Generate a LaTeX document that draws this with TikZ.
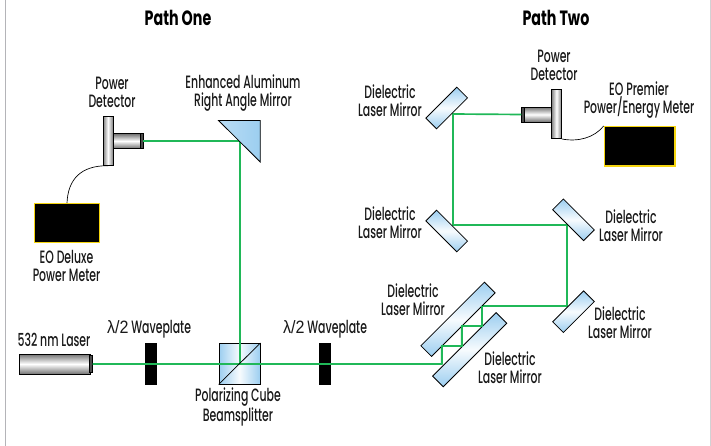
\documentclass[tikz,border=0pt]{standalone}
\usepackage{fontspec}
\setmainfont[FakeStretch=0.61]{Poppins Medium}
\newfontfamily\ttlfont[FakeStretch=0.69]{Poppins Bold}
\newfontfamily\gk[FakeStretch=0.9]{Liberation Sans}
\definecolor{beam}{HTML}{20B858}
\definecolor{glass}{HTML}{9CCEF0}
\definecolor{frame}{HTML}{B4B4B8}
\definecolor{brass}{HTML}{F5D50F}
\tikzset{
  x=0.75pt,y=-0.75pt,
  lbl/.style={align=center,inner sep=0pt,font=\fontsize{13.4}{13.5}\selectfont,text=black!90},
  ttl/.style={inner sep=0pt,font=\fontsize{15.5}{16}\ttlfont},
  ray/.style={draw=beam,line width=1.25pt,line join=miter},
  mirror/.style={draw=black,line width=0.6pt,rectangle,inner sep=0pt,minimum height=11.3pt,
     top color=glass,bottom color=glass,middle color=white!92!glass},
  waveplate/.style={draw=none,fill=black,rectangle,inner sep=0pt,minimum width=9pt,minimum height=31.5pt},
  meter/.style={draw=brass,line width=1.1pt,fill=black,rectangle,inner sep=0pt},
  metal/.style={draw=black,line width=0.5pt,rectangle,inner sep=0pt,top color=black!55,bottom color=black!55,middle color=white},
  metalv/.style={draw=black,line width=0.5pt,rectangle,inner sep=0pt,left color=black!50,right color=black!50,middle color=white},
  endcap/.style={draw=black,line width=0.4pt,fill=black!70,rectangle,inner sep=0pt},
  wire/.style={draw=black,line width=0.5pt}
}
\begin{document}
\begin{tikzpicture}
\useasboundingbox (0,0) rectangle (711,446);
\fill[white] (0,0) rectangle (711,446);
\draw[frame,line width=1.1pt] (5.5,0) -- (5.5,446);
\draw[frame!60,line width=0.8pt] (710.6,0) -- (710.6,446);

% turning points of the beams
\coordinate (bs) at (239.8,364);
\coordinate (pa) at (239.8,141);
\coordinate (a1) at (441.7,364);
\coordinate (a2) at (441.7,346);
\coordinate (a3) at (461.7,346);
\coordinate (a4) at (461.7,326);
\coordinate (a5) at (482,326);
\coordinate (a6) at (482,306);
\coordinate (a7) at (567,306);
\coordinate (a8) at (567,225);
\coordinate (a9) at (453,225);
\coordinate (a10) at (453,114);

% laser, plates
\node[metal,minimum width=53pt,minimum height=15pt] (laser) at (54.5,364) {};
\node[endcap,minimum width=2pt,minimum height=12.5pt] (lasercap) at (91,364) {};
\node[waveplate] (wp1) at (151,364) {};
\node[waveplate] (wp2) at (325,364) {};
\node[draw=black,line width=0.6pt,rectangle,inner sep=0pt,minimum width=30.75pt,minimum height=30.5pt,left color=glass,right color=glass,middle color=white!92!glass] (cube) at (239.5,363.7) {};

% detectors, meters
\node[metal,minimum width=20pt,minimum height=11pt] (body1) at (126.5,141) {};
\node[metalv,minimum width=7.5pt,minimum height=37pt] (plate1) at (108,140.7) {};
\node[endcap,minimum width=2pt,minimum height=11pt] (cap1) at (141.5,141) {};
\node[meter,minimum width=48.4pt,minimum height=28.9pt] (meter1) at (67,223) {};
\node[metal,minimum width=20pt,minimum height=11pt] (body2) at (537.7,114.5) {};
\node[metalv,minimum width=7.5pt,minimum height=37pt] (plate2) at (556.5,114) {};
\node[endcap,minimum width=2pt,minimum height=11pt] (cap2) at (523,114.5) {};
\node[meter,minimum width=52.9pt,minimum height=29.4pt] (meter2) at (639.7,146.3) {};

% beams
\draw[ray] (lasercap.east) -- (a1) -- (a2) -- (a3) -- (a4) -- (a5) -- (a6) -- (a7) -- (a8) -- (a9) -- (a10) -- (cap2.west);
\draw[ray] (bs) -- (pa) -- (cap1.east);
\draw[draw=black,line width=0.55pt] (cube.south west) -- (cube.north east);

% wires
\draw[wire] (meter1.north) .. controls (68,180) and (80,165.5) .. (plate1.south);
\draw[wire] (plate2.south east) .. controls (578,142) and (594,138) .. (meter2.north west);

% right-angle mirror
\shade[left color=glass!70,middle color=white,right color=glass,draw=black,line width=0.6pt,shading angle=90] (218.5,120.5) -- (260.3,120.5) -- (260.3,162) -- cycle;

% dielectric mirrors
\node[mirror,minimum width=32.8pt,rotate=45] (m1) at (446.7,108) {};
\node[mirror,minimum width=32.8pt,rotate=-45] (m2) at (446.7,231) {};
\node[mirror,minimum width=32.8pt,rotate=-45] (m3) at (573.5,219.8) {};
\node[mirror,minimum width=32.8pt,rotate=45] (m4) at (573.5,311.7) {};
\node[mirror,minimum width=67.4pt,rotate=45] (m5) at (458,319.3) {};
\node[mirror,minimum width=67.4pt,rotate=45] (m6) at (469.7,349.7) {};
\draw[ray] (a1) -- (a2) -- (a3) -- (a4) -- (a5) -- (a6);

% labels
\node[ttl] (t1) at (178,18) {Path One};
\node[ttl] (t2) at (556,18) {Path Two};
\node[lbl] at (112,92.5) {Power\\Detector};
\node[lbl] at (243,93) {Enhanced Aluminum\\Right Angle Mirror};
\node[lbl] at (66.5,265.5) {EO Deluxe\\Power Meter};
\node[lbl] at (54,340) {532 nm Laser};
\node[lbl] at (149,329) {{\gk λ/2} Waveplate};
\node[lbl] at (325,329) {{\gk λ/2} Waveplate};
\node[lbl] at (238,407) {Polarizing Cube\\Beamsplitter};
\node[lbl] at (554,65) {Power\\Detector};
\node[lbl] at (639,100) {EO Premier\\Power/Energy Meter};
\node[lbl] at (390,100.5) {Dielectric\\Laser Mirror};
\node[lbl] at (390,223) {Dielectric\\Laser Mirror};
\node[lbl] at (631,226) {Dielectric\\Laser Mirror};
\node[lbl] at (620,323) {Dielectric\\Laser Mirror};
\node[lbl] at (413,300) {Dielectric\\Laser Mirror};
\node[lbl] at (510,367.5) {Dielectric\\Laser Mirror};
\end{tikzpicture}
\end{document}
